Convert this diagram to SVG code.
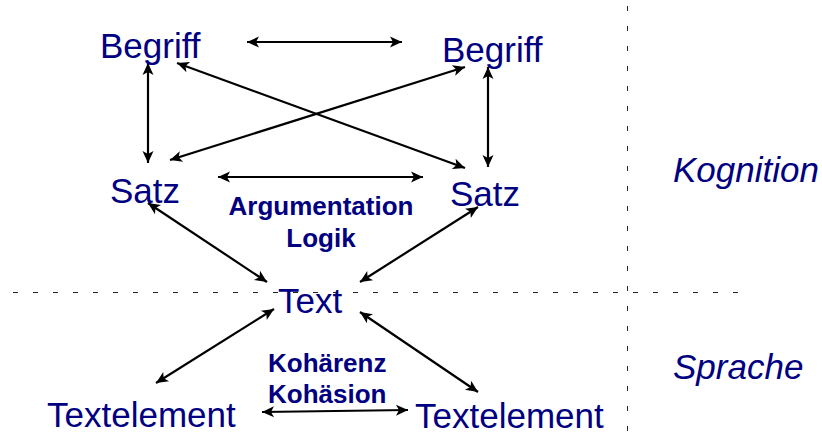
<svg xmlns="http://www.w3.org/2000/svg" width="822" height="437" viewBox="0 0 822 437">
  <style>
    .lbl { font-family: "Liberation Sans", Arial, sans-serif; font-size: 35px; fill: #000080; }
    .bold { font-family: "Liberation Sans", Arial, sans-serif; font-size: 26px; font-weight: bold; fill: #000080; }
    .side { font-style: italic; }
    .link { stroke: #000; stroke-width: 2.2; fill: none; marker-start: url(#head); marker-end: url(#head); }
    .divider { stroke: #222; stroke-width: 1; stroke-dasharray: 5 15; fill: none; }
  </style>
  <defs>
    <marker id="head" viewBox="-1 -7 14 14" refX="12" refY="0" markerWidth="14" markerHeight="14" markerUnits="userSpaceOnUse" orient="auto-start-reverse">
      <path d="M0,-5.5 L12,0 L0,5.5 L3,0 Z" fill="#000"/>
    </marker>
  </defs>

  <rect width="822" height="437" fill="#fff"/>

  <!-- section dividers, on half-pixel positions so they stay crisp -->
  <g id="dividers">
    <line class="divider" x1="13" y1="292.5" x2="745" y2="292.5"/>
    <line class="divider" x1="627.5" y1="6" x2="627.5" y2="437" stroke-dasharray="4 15"/>
  </g>

  <!-- connectors -->
  <g id="connectors">
    <line class="link" x1="247" y1="42" x2="402" y2="42"/>
    <line class="link" x1="148" y1="63" x2="148" y2="163"/>
    <line class="link" x1="488" y1="67" x2="488" y2="167"/>
    <line class="link" x1="177" y1="63" x2="465" y2="168"/>
    <line class="link" x1="465" y1="67" x2="170" y2="160"/>
    <line class="link" x1="218" y1="177" x2="423" y2="177"/>
    <line class="link" x1="148" y1="203" x2="267" y2="282"/>
    <line class="link" x1="478" y1="207" x2="360" y2="282"/>
    <line class="link" x1="274" y1="309" x2="156" y2="383"/>
    <line class="link" x1="360" y1="312" x2="478" y2="392"/>
    <line class="link" x1="262" y1="412" x2="408" y2="410" stroke-width="2.8"/>
  </g>

  <!-- nodes -->
  <g id="begriff-left"><text class="lbl" x="100" y="58">Begriff</text></g>
  <g id="begriff-right"><text class="lbl" x="442" y="62">Begriff</text></g>
  <g id="satz-left"><text class="lbl" x="110" y="203">Satz</text></g>
  <g id="satz-right"><text class="lbl" x="450" y="206">Satz</text></g>
  <g id="argumentation">
    <text class="bold" x="321" y="215" text-anchor="middle">Argumentation</text>
    <text class="bold" x="321" y="247" text-anchor="middle">Logik</text>
  </g>
  <g id="text"><text class="lbl" x="278" y="313">Text</text></g>
  <g id="kohaerenz">
    <text class="bold" x="268" y="372">Kohärenz</text>
    <text class="bold" x="268" y="403">Kohäsion</text>
  </g>
  <g id="textelement-left"><text class="lbl" x="47" y="427">Textelement</text></g>
  <g id="textelement-right"><text class="lbl" x="415" y="428">Textelement</text></g>

  <!-- level labels -->
  <g id="kognition"><text class="lbl side" x="673" y="182">Kognition</text></g>
  <g id="sprache"><text class="lbl side" x="673" y="379">Sprache</text></g>
</svg>
